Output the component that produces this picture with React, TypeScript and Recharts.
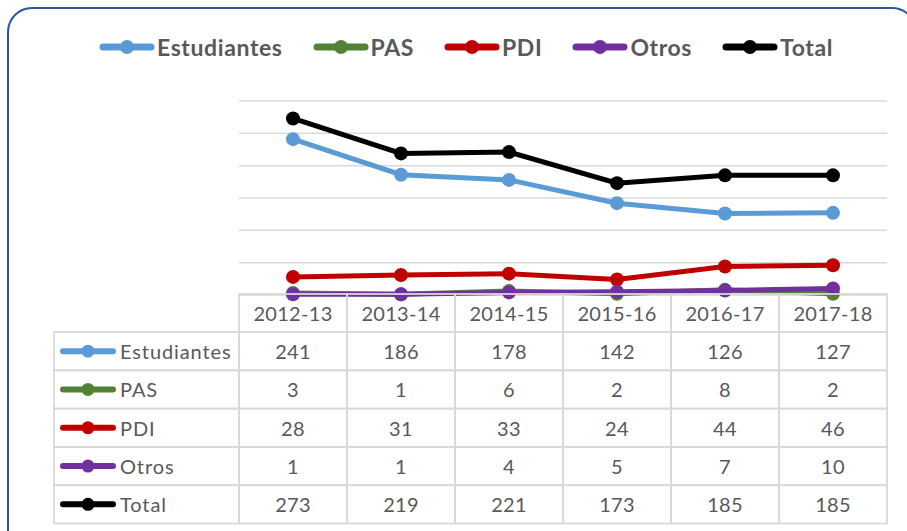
import React from 'react';
import { LineChart, Line, XAxis, YAxis, CartesianGrid } from 'recharts';

const categories = ['2012-13', '2013-14', '2014-15', '2015-16', '2016-17', '2017-18'];
const estudiantes = [241, 186, 178, 142, 126, 127];
const pas = [3, 1, 6, 2, 8, 2];
const pdi = [28, 31, 33, 24, 44, 46];
const otros = [1, 1, 4, 5, 7, 10];
const total = [273, 219, 221, 173, 185, 185];
const yTicks = [0, 50, 100, 150, 200, 250, 300];

const series = [
  { key: 'Estudiantes', values: estudiantes, color: '#5B9BD5' },
  { key: 'PAS', values: pas, color: '#548235' },
  { key: 'PDI', values: pdi, color: '#C00000' },
  { key: 'Otros', values: otros, color: '#7030A0' },
  { key: 'Total', values: total, color: '#000000' },
];

const data = categories.map((name, i) => {
  const row: Record<string, string | number> = { name };
  series.forEach((s) => {
    row[s.key] = s.values[i];
  });
  return row;
});

const FONT = 'Lato, "Open Sans", sans-serif';
const TEXT = '#595959';
const GRID = '#D9D9D9';
const W = 907;
const H = 531;
const M = { top: 101, right: 20, left: 239, bottom: 6 };
const AXIS_H = 230;
const BAND = (W - M.left - M.right) / categories.length;
const HEADER_H = 38;
const ROW_H = 38.3;
const LABEL_COL_X = 54;

const Icon = ({ x, y, color, len, r, sw }: any) => (
  <g>
    <line x1={x} y1={y} x2={x + len} y2={y} stroke={color} strokeWidth={sw} strokeLinecap="round" />
    <circle cx={x + len / 2} cy={y} r={r} fill={color} />
  </g>
);

const TableColumn = (props: any) => {
  const { x, y, payload } = props;
  const i = categories.indexOf(payload.value);
  const half = BAND / 2;
  const top = y - 1;
  const rowsTop = top + HEADER_H;
  return (
    <g>
      <rect x={x - half} y={top} width={BAND} height={HEADER_H} fill="none" stroke={GRID} strokeWidth={1.8} />
      <text x={x} y={top + HEADER_H / 2} textAnchor="middle" dominantBaseline="central" fill={TEXT} fontSize={20} fontFamily={FONT} letterSpacing={0.3}>
        {payload.value}
      </text>
      {series.map((s, r) => (
        <g key={s.key}>
          <rect x={x - half} y={rowsTop + r * ROW_H} width={BAND} height={ROW_H} fill="none" stroke={GRID} strokeWidth={1.8} />
          <text x={x} y={rowsTop + r * ROW_H + ROW_H / 2} textAnchor="middle" dominantBaseline="central" fill={TEXT} fontSize={20} fontFamily={FONT} letterSpacing={0.3}>
            {s.values[i]}
          </text>
        </g>
      ))}
      {i === 0 &&
        series.map((s, r) => {
          const left = LABEL_COL_X;
          const cy = rowsTop + r * ROW_H + ROW_H / 2;
          return (
            <g key={'lab' + s.key}>
              <rect x={left} y={rowsTop + r * ROW_H} width={x - half - left} height={ROW_H} fill="none" stroke={GRID} strokeWidth={1.8} />
              <Icon x={left + 9} y={cy} color={s.color} len={50} r={6.5} sw={6} />
              <text x={left + 66} y={cy} dominantBaseline="central" fill={TEXT} fontSize={20} fontFamily={FONT} letterSpacing={0.9}>
                {s.key}
              </text>
            </g>
          );
        })}
    </g>
  );
};

export default function App() {
  return (
    <div style={{ position: 'absolute', left: 0, top: 0, width: W, height: H, overflow: 'hidden', background: '#fff' }}>
      <div
        style={{
          position: 'absolute',
          left: 7,
          top: 7,
          width: 910,
          height: 580,
          border: '2px solid #2F5597',
          borderRadius: 25,
          boxSizing: 'border-box',
        }}
      />
      <div style={{ position: 'absolute', left: 97, top: 33, display: 'flex', alignItems: 'center', fontFamily: FONT }}>
        {series.map((s) => (
          <div key={s.key} style={{ display: 'flex', alignItems: 'center', marginRight: 28 }}>
            <svg width={58} height={18} style={{ display: 'block' }}>
              <Icon x={6} y={9} color={s.color} len={48} r={7} sw={7} />
            </svg>
            <span style={{ fontSize: 23, fontWeight: 700, color: TEXT, marginLeft: 2, lineHeight: '28px', letterSpacing: 0.6 }}>{s.key}</span>
          </div>
        ))}
      </div>
      <div style={{ position: 'absolute', left: 0, top: 0 }}>
        <LineChart width={W} height={H} data={data} margin={M}>
          <CartesianGrid vertical={false} stroke={GRID} strokeWidth={1.5} />
          <YAxis hide domain={[0, 300]} ticks={yTicks} />
          <XAxis
            dataKey="name"
            scale="band"
            height={AXIS_H}
            axisLine={false}
            tickLine={false}
            tickSize={0}
            tickMargin={0}
            interval={0}
            tick={<TableColumn />}
          />
          {series.map((s) => (
            <Line
              key={s.key}
              type="linear"
              dataKey={s.key}
              stroke={s.color}
              strokeWidth={5}
              dot={{ r: 7, fill: s.color, stroke: s.color, strokeWidth: 0 }}
              activeDot={false}
              isAnimationActive={false}
            />
          ))}
        </LineChart>
      </div>
    </div>
  );
}
